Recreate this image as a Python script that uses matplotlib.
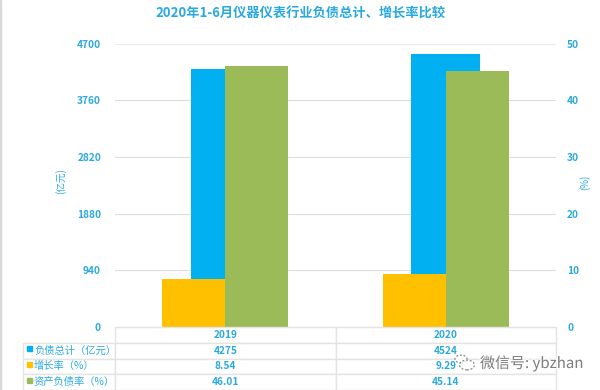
from matplotlib import pyplot as plt
from matplotlib import patheffects as pe
from matplotlib.patches import Circle, Rectangle
import numpy as np

plt.rcParams['font.family'] = ['Noto Sans CJK SC', 'DejaVu Sans']

years = ['2019', '2020']
debt = [4275, 4524]
growth = [8.54, 9.29]
ratio = [46.01, 45.14]
left_ticks = [0, 940, 1880, 2820, 3760, 4700]
right_ticks = [0, 10, 20, 30, 40, 50]
series_names = ['负债总计（亿元）', '增长率（%）', '资产负债率（%）']
debt_labels = ['4275', '4524']
growth_labels = ['8.54', '9.29']
ratio_labels = ['46.01', '45.14']

BLUE = '#00B0F0'
ORANGE = '#FFC000'
GREEN = '#9BBB59'
TEXT = '#2AA9E0'
GRID = '#DDDDDD'

W, H = 600, 390

def box(x0, y0, x1, y1):
  # pixel box to figure fractions
  return [x0/W, 1-y1/H, (x1-x0)/W, (y1-y0)/H]

fig = plt.figure(figsize=(6, 3.9), dpi=100)
ax = fig.add_axes(box(115, 43.5, 556, 327))
ax2 = ax.twinx()

x = np.arange(len(years))
ax.bar(x, debt, 0.313, color=BLUE, zorder=3)
ax.set_xlim(-0.5, 1.5)
ax.set_ylim(0, 4700)
ax.set_yticks(left_ticks)
ax.set_xticks([])
ax.grid(axis='y', color=GRID, lw=0.8, zorder=0)
ax.get_ygridlines()[-1].set_color('#EBEBEB')
ax.get_ygridlines()[-1].set_linewidth(1.6)

w = 0.286
ax2.bar(x-w/2, growth, w, color=ORANGE, zorder=3)
ax2.bar(x+w/2, ratio, w, color=GREEN, zorder=3)
ax2.set_ylim(0, 50)
ax2.set_yticks(right_ticks)
ax2.set_xticks([])

for a in (ax, ax2):
  for s in a.spines.values():
    s.set_visible(False)
  a.tick_params(axis='y', length=0, labelsize=7.3, labelcolor=TEXT, pad=10)
  for t in a.get_yticklabels():
    t.set_fontweight('bold')
ax2.tick_params(axis='y', pad=8)

fig.text(300.5/W, 1-14/H, '2020年1-6月仪器仪表行业负债总计、增长率比较', color=TEXT,
         fontsize=9.5, fontweight='bold', ha='center', va='center')
fig.text(61/W, 1-181/H, '(亿元)', color=TEXT, fontsize=7, rotation=90, ha='center', va='center')
fig.text(585/W, 1-182/H, '(%)', color=TEXT, fontsize=7, rotation=90, ha='center', va='center')

# data table under the plot
tax = fig.add_axes(box(23, 327, 556, 390))
tax.axis('off')
rows = [[''] + years,
        [series_names[0]] + debt_labels,
        [series_names[1]] + growth_labels,
        [series_names[2]] + ratio_labels]
tbl = tax.table(cellText=rows, bbox=[0, 0, 1, 1], cellLoc='center',
                colWidths=[92/533, 220.5/533, 220.5/533])
tbl.auto_set_font_size(False)
for (r, c), cell in tbl.get_celld().items():
  cell.set_edgecolor('#E4E4E4')
  cell.set_linewidth(1)
  cell.get_text().set_color(TEXT)
  cell.get_text().set_fontsize(7.3)
  cell.get_text().set_fontweight('bold' if c > 0 else 'normal')
  if c == 0:
    cell.get_text().set_horizontalalignment('left')
    cell.PAD = 11/92
    cell.get_text().set_fontsize(7.4)
tbl[(0, 0)].set_visible(False)

for y0, col in zip([346, 362, 378], [BLUE, ORANGE, GREEN]):
  fig.add_artist(Rectangle((26.5/W, 1-(y0+5)/H), 5/W, 5/H, color=col, transform=fig.transFigure))

# picture border and watermark
fig.add_artist(Rectangle((0, 0), 1/W, 1, color='#D9D9D9', transform=fig.transFigure))
halo = [pe.withStroke(linewidth=2, foreground='white', alpha=0.85)]
fig.text(480/W, 1-363/H, '微信号: ybzhan', color='#808080', fontsize=10.8, ha='left', va='center',
         path_effects=halo, zorder=10)
for cx, cy, r in [(461, 359, 6), (467, 365, 7.5)]:
  fig.add_artist(Circle((cx/W, 1-cy/H), r/W, fc=(1, 1, 1, 0.75), ec='#888888', lw=0.9, ls=(0, (1.5, 1.5)),
                        transform=fig.transFigure, zorder=10))

fig.savefig('out.png', dpi=100)
